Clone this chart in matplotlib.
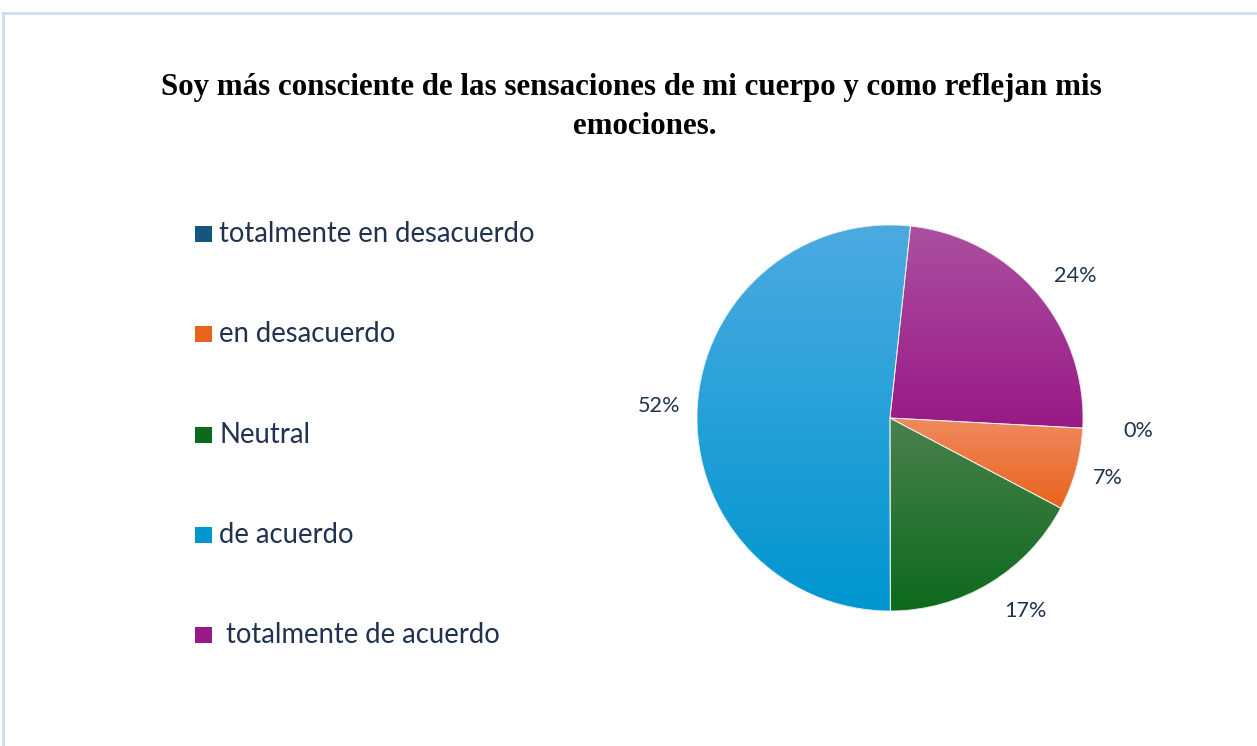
import numpy as np
import matplotlib
matplotlib.use('Agg')
import matplotlib.pyplot as plt
from matplotlib.colors import LinearSegmentedColormap
from matplotlib.patches import Rectangle, Wedge
from matplotlib.lines import Line2D

# survey answers (29 people)
categories = ['totalmente en desacuerdo', 'en desacuerdo', 'Neutral', 'de acuerdo', ' totalmente de acuerdo']
counts = [0, 2, 5, 15, 7]
pct_labels = ['0%', '7%', '17%', '52%', '24%']

# gradient colours (top, bottom) like the excel fill
grad_top = ['#2e6f98', '#f08a5f', '#4a814d', '#4babe0', '#ab50a0']
grad_bot = ['#145680', '#e9631d', '#0d6a1c', '#0096d0', '#991985']
txt_col = '#1f3350'

W, H = 1257, 746
fig = plt.figure(figsize=(W / 100, H / 100), dpi=100)
fig.patch.set_facecolor('white')

# light frame (top + left edge only visible)
fig.add_artist(Line2D([3 / W, 3 / W], [0, 1 - 13 / H], color='#c9dcf0', lw=2))
fig.add_artist(Line2D([3 / W, 1], [1 - 13 / H, 1 - 13 / H], color='#c9dcf0', lw=2))

fig.text(631 / W, 1 - 87 / H, 'Soy más consciente de las sensaciones de mi cuerpo y como reflejan mis',
         ha='center', va='center', fontsize=22.3, fontweight='bold', family='Liberation Serif')
fig.text(645 / W, 1 - 127 / H, 'emociones.',
         ha='center', va='center', fontsize=22.3, fontweight='bold', family='Liberation Serif')

# pie
cx, cy, r = 890, 418, 193
ax = fig.add_axes([(cx - r) / W, (H - cy - r) / H, 2 * r / W, 2 * r / H])
wedges, _ = ax.pie(counts, startangle=-3, counterclock=False, radius=1,
                   colors=grad_bot, wedgeprops=dict(linewidth=0))

grad = np.linspace(0, 1, 256).reshape(-1, 1)
for w, ct, cb in zip(wedges, grad_top, grad_bot):
    if w.theta2 - w.theta1 < 1e-6:
        continue
    bb = w.get_path().get_extents()
    cm = LinearSegmentedColormap.from_list('g', [cb, ct])
    im = ax.imshow(grad, cmap=cm, origin='lower', aspect='auto',
                   extent=[bb.x0, bb.x1, bb.y0, bb.y1], zorder=2)
    im.set_clip_path(w)
    ax.add_patch(Wedge(w.center, w.r, w.theta1, w.theta2,
                       fill=False, ec='#f4f4f4', lw=0.6, zorder=3))

ax.set_xlim(-1, 1)
ax.set_ylim(-1, 1)
ax.axis('off')

# data labels outside end (small nudges like excel's best fit)
dist = [1.29, 1.17, 1.22, 1.2, 1.21]
nudge = [0, 0, 4, 0, -3]
for w, lab, d, n in zip(wedges, pct_labels, dist, nudge):
    ang = np.deg2rad((w.theta1 + w.theta2) / 2 + n)
    ax.text(d * np.cos(ang), d * np.sin(ang), lab, ha='center', va='center',
            fontsize=15.6, color=txt_col, family='Lato')

# legend on the left
for i, (lab, ct, cb) in enumerate(zip(categories, grad_top, grad_bot)):
    yc = 234 + i * 100.3
    fig.patches.append(Rectangle((195 / W, 1 - (yc + 8) / H), 17 / W, 16 / H,
                                 transform=fig.transFigure, facecolor=cb, edgecolor='none'))
    fig.text(219 / W, 1 - yc / H, lab, ha='left', va='center',
             fontsize=19.8, color=txt_col, family='Lato')

fig.savefig('out.png', dpi=100)
